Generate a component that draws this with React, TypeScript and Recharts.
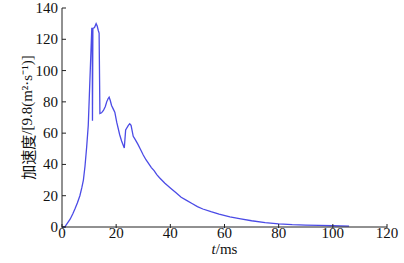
import * as React from 'react';
import { Line, LineChart, XAxis, YAxis } from 'recharts';

const timeMs = [
  0, 1, 2, 3, 4, 4.8, 5.7, 6.6, 7.3, 7.9, 8.5, 9.1, 9.7, 10.1, 10.6, 11, 11.15, 11.25, 11.4, 12, 12.6,
  13, 13.4, 13.7, 14, 14.6, 15.3, 16, 16.5, 17, 17.4, 17.8, 18.3, 18.9, 19.5, 20.2, 21.3, 22, 23, 23.5,
  24.5, 25, 25.5, 26.3, 27, 28, 29, 30, 31, 32, 33, 34, 35, 36, 38, 40, 42, 44, 46, 48, 50, 52, 55, 58,
  62, 66, 70, 75, 80, 85, 90, 95, 100, 106,
];
const accel = [
  0, 0, 2.5, 5, 8.5, 11.6, 15.5, 20, 25, 30, 39, 51, 65, 84, 108, 127, 127, 68, 127, 127.5, 130,
  128.5, 125.6, 124, 72.5, 73, 74.5, 77, 80, 82, 83, 81, 77.7, 75.5, 73.4, 67, 59, 55, 50.5, 62,
  65, 66, 65, 58, 56, 53, 49.5, 46, 43, 40.5, 38, 36, 33.5, 31.5, 28, 25, 22, 19, 17, 15, 13, 11.5, 9.8, 8.3,
  6.5, 5.2, 4, 2.8, 2, 1.5, 1.2, 1, 0.8, 0.6,
];
const xTicks = [0, 20, 40, 60, 80, 100, 120];
const yTicks = [0, 20, 40, 60, 80, 100, 120, 140];

const data = timeMs.map((t, i) => ({ t, a: accel[i] }));

const FONT = 'Liberation Serif';
const CJK = 'Noto Sans CJK SC';
const AXIS = '#222';

function YTick(props: any) {
  const { x, y, payload } = props;
  return (
    <g>
      <line x1={x + 4} x2={x + 8} y1={y} y2={y} stroke={AXIS} />
      <text x={x} y={y} dy={5} textAnchor="end" fontFamily={FONT} fontSize={15} fill="#111">
        {payload.value}
      </text>
    </g>
  );
}

function XTick(props: any) {
  const { x, y, payload } = props;
  return (
    <g>
      <line x1={x} x2={x} y1={y - 3} y2={y - 7} stroke={AXIS} />
      <text x={x} y={y} dy={7} textAnchor="middle" fontFamily={FONT} fontSize={15} fill="#111">
        {payload.value}
      </text>
    </g>
  );
}

function YLabel(props: any) {
  const { viewBox } = props;
  const cx = viewBox.x + 7;
  const cy = viewBox.y + viewBox.height / 2;
  return (
    <text
      x={cx}
      y={cy}
      transform={`rotate(-90, ${cx}, ${cy})`}
      textAnchor="middle"
      dominantBaseline="central"
      fontSize={15}
      fill="#111"
    >
      <tspan fontFamily={CJK}>加速度</tspan>
      <tspan fontFamily={FONT}>/[9.8(m²·s⁻¹)]</tspan>
    </text>
  );
}

function XLabel(props: any) {
  const { viewBox } = props;
  const cx = viewBox.x + viewBox.width / 2;
  return (
    <text x={cx} y={viewBox.y + 27} textAnchor="middle" fontFamily={FONT} fontSize={15} fill="#111">
      <tspan fontStyle="italic">t</tspan>/ms
    </text>
  );
}

export default function App(): React.JSX.Element {
  return (
    <div style={{ position: 'absolute', left: 0, top: 0, width: 404, height: 263, background: '#fff' }}>
      <LineChart width={404} height={263} data={data} margin={{ top: 8, right: 17, bottom: 0, left: 20 }}>
        <XAxis
          dataKey="t"
          type="number"
          domain={[0, 120]}
          ticks={xTicks}
          interval={0}
          height={36}
          stroke={AXIS}
          tickLine={false}
          tickSize={0}
          tickMargin={4}
          tick={<XTick />}
          label={{ content: <XLabel /> }}
        />
        <YAxis
          type="number"
          domain={[0, 140]}
          ticks={yTicks}
          interval={0}
          width={42}
          stroke={AXIS}
          tickLine={false}
          tickSize={0}
          tickMargin={4}
          tick={<YTick />}
          label={{ content: <YLabel /> }}
        />
        <Line
          type="linear"
          dataKey="a"
          stroke="#4b4be6"
          strokeWidth={1.3}
          dot={false}
          isAnimationActive={false}
        />
      </LineChart>
    </div>
  );
}
